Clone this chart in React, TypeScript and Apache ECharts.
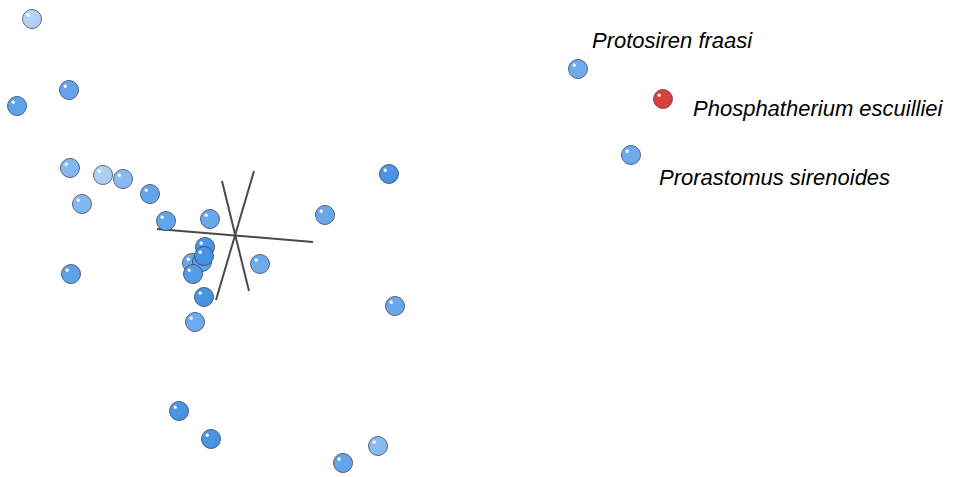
import React, { useEffect, useRef } from "react";
import * as echarts from "echarts";

// Projected positions of specimens (screen space of the 3D view) and fog depth (0 = near, 1 = far)
const pointX = [32, 69, 17, 70, 103, 123, 150, 82, 166, 210, 389, 325, 192, 202, 205, 204, 193, 260, 71, 204, 395, 195, 179, 211, 343, 378, 578, 631];
const pointY = [19, 90, 106, 168, 175, 179, 194, 204, 221, 219, 174, 215, 263, 262, 247, 256, 274, 264, 274, 297, 306, 322, 411, 439, 463, 446, 69, 155];
const pointDepth = [1.0, 0.25, 0.2, 0.55, 0.95, 0.6, 0.25, 0.55, 0.25, 0.3, 0.05, 0.3, 0.3, 0.2, 0.05, 0.0, 0.1, 0.35, 0.2, 0.0, 0.3, 0.35, 0.05, 0.05, 0.25, 0.6, 0.35, 0.35];
const pointNames = ["", "", "", "", "", "", "", "", "", "", "", "", "", "", "", "", "", "", "", "", "", "", "", "", "", "", "Protosiren fraasi", "Prorastomus sirenoides"];

const highlightX = [663];
const highlightY = [99];
const highlightNames = ["Phosphatherium escuilliei"];

// 3D axis segments (projected endpoints)
const axisSegments = [
  [[157, 229], [313, 242]],
  [[222, 181], [249, 291]],
  [[254, 171], [216, 300]],
];

function mix(hex: string, t: number) {
  const n = parseInt(hex.slice(1), 16);
  const r = (n >> 16) & 255, g = (n >> 8) & 255, b = n & 255;
  const f = (c: number) => Math.round(c + (255 - c) * t);
  return `rgb(${f(r)},${f(g)},${f(b)})`;
}
function dark(hex: string, t: number) {
  const n = parseInt(hex.slice(1), 16);
  const r = (n >> 16) & 255, g = (n >> 8) & 255, b = n & 255;
  const f = (c: number) => Math.round(c * (1 - t));
  return `rgb(${f(r)},${f(g)},${f(b)})`;
}

function sphere(base: string, depth: number) {
  const c = mix(base, depth * 0.6);
  const cd = depth > 0.05 ? mix(base, depth * 0.55) : dark(base, 0.04);
  return new echarts.graphic.RadialGradient(0.3, 0.3, 0.8, [
    { offset: 0, color: "#ffffff" },
    { offset: 0.07, color: "#ffffff" },
    { offset: 0.14, color: c },
    { offset: 1, color: cd },
  ]);
}

const labelOffsets: Record<string, number[]> = {
  "Protosiren fraasi": [-1, -29],
  "Prorastomus sirenoides": [13, 22],
  "Phosphatherium escuilliei": [15, 9],
};

export default function App() {
  const ref = useRef<HTMLDivElement>(null);
  useEffect(() => {
    if (!ref.current) return;
    const chart = echarts.init(ref.current, null, { renderer: "svg" });
    const labelStyle = (name: string) =>
      name
        ? {
            show: true,
            position: "right",
            offset: labelOffsets[name],
            formatter: name,
            fontFamily: "Liberation Sans, Arial, sans-serif",
            fontStyle: "italic",
            fontSize: 22,
            color: "#000",
          }
        : { show: false };

    const blueData = pointX.map((x, i) => ({
      value: [x, pointY[i]],
      itemStyle: { color: sphere("#4995e6", pointDepth[i]) },
      label: labelStyle(pointNames[i]),
      z2: Math.round((1 - pointDepth[i]) * 100),
    }));
    const redData = highlightX.map((x, i) => ({
      value: [x, highlightY[i]],
      itemStyle: { color: sphere("#da4242", 0) },
      label: labelStyle(highlightNames[i]),
    }));

    const axisSeries = axisSegments.map((seg) => ({
      type: "line",
      data: seg,
      symbol: "none",
      silent: true,
      lineStyle: { color: "#4a4a4a", width: 2 },
      z: 1,
    }));

    chart.setOption({
      animation: false,
      grid: { left: 0, right: 0, top: 0, bottom: 0 },
      xAxis: { type: "value", min: 0, max: 958, show: false },
      yAxis: { type: "value", min: 0, max: 477, inverse: true, show: false },
      series: [
        ...axisSeries,
        {
          type: "scatter",
          symbolSize: 19,
          data: blueData,
          itemStyle: { borderColor: "rgba(50,55,75,0.7)", borderWidth: 1, opacity: 1 },
          z: 2,
        },
        {
          type: "scatter",
          symbolSize: 19,
          data: redData,
          itemStyle: { borderColor: "rgba(70,40,40,0.6)", borderWidth: 1, opacity: 1 },
          z: 3,
        },
      ],
    });
    return () => chart.dispose();
  }, []);
  return (
    <div
      ref={ref}
      style={{ position: "fixed", left: 0, top: 0, width: 958, height: 477, background: "#fff" }}
    />
  );
}
